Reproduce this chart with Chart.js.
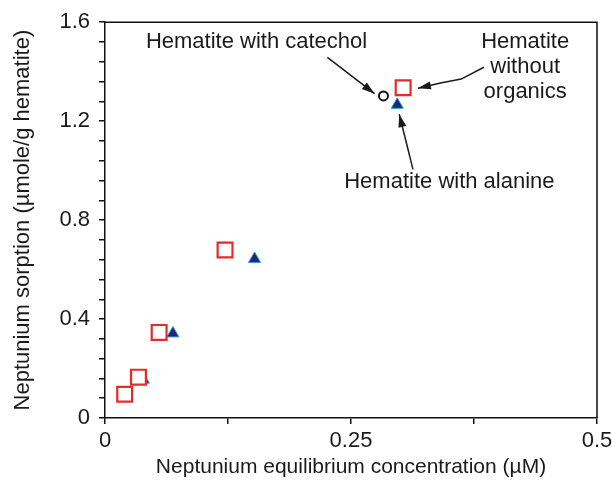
<!DOCTYPE html>
<html><head><meta charset="utf-8">
<script src="https://cdn.jsdelivr.net/npm/chart.js@4/dist/chart.umd.min.js"></script>
<style>html,body{margin:0;padding:0;background:#fff}</style>
</head><body>
<canvas id="c" width="612" height="490"></canvas>
<script>
// Data
const withoutOrganicsX = [0.020, 0.034, 0.055, 0.122, 0.303];
const withoutOrganicsY = [0.096, 0.165, 0.346, 0.679, 1.335];
const alanineX = [0.039, 0.069, 0.152, 0.297];
const alanineY = [0.155, 0.342, 0.643, 1.266];
const catecholX = [0.021, 0.034, 0.056, 0.122, 0.283];
const catecholY = [0.092, 0.163, 0.344, 0.690, 1.302];
const yTickLabels = ['0', '0.4', '0.8', '1.2', '1.6'];
const xTickLabels = ['0', '0.25', '0.5'];
const xTitle = 'Neptunium equilibrium concentration (\u00b5M)';
const yTitle = 'Neptunium sorption (\u00b5mole/g hematite)';

const FONT = "'Liberation Sans', Arial, Helvetica, sans-serif";
const INK = '#1a1a1a';

function pts(xs, ys) { return xs.map((x, i) => ({x: x, y: ys[i]})); }

// annotation texts and arrows, in data units
const annotations = {
  texts: [
    {lines: ['Hematite with catechol'], x: 0.154, y: 1.52},
    {lines: ['Hematite', 'without', 'organics'], x: 0.427, y: 1.52},
    {lines: ['Hematite with alanine'], x: 0.35, y: 0.955}
  ],
  arrows: [
    [[0.226, 1.458], [0.274, 1.311]],
    [[0.385, 1.418], [0.362, 1.370], [0.341, 1.354], [0.318, 1.333]],
    [[0.313, 1.005], [0.299, 1.228]]
  ]
};

const framePlugin = {
  id: 'frame',
  afterDraw(chart) {
    const a = chart.chartArea, ctx = chart.ctx;
    ctx.save();
    ctx.strokeStyle = '#111';
    ctx.lineWidth = 1.5;
    ctx.beginPath();
    ctx.moveTo(a.left, a.top);
    ctx.lineTo(a.right, a.top);
    ctx.lineTo(a.right, a.bottom);
    ctx.stroke();
    ctx.restore();
  }
};

const annotPlugin = {
  id: 'annot',
  afterDraw(chart) {
    const ctx = chart.ctx, xs = chart.scales.x, ys = chart.scales.y;
    ctx.save();
    ctx.fillStyle = INK;
    ctx.font = '22px ' + FONT;
    ctx.textAlign = 'center';
    ctx.textBaseline = 'middle';
    annotations.texts.forEach(t => {
      const cx = xs.getPixelForValue(t.x), cy = ys.getPixelForValue(t.y);
      t.lines.forEach((s, i) => ctx.fillText(s, cx, cy + i * 25));
    });
    ctx.strokeStyle = INK;
    ctx.lineWidth = 1.5;
    annotations.arrows.forEach(a => {
      const p = a.map(q => [xs.getPixelForValue(q[0]), ys.getPixelForValue(q[1])]);
      ctx.beginPath();
      ctx.moveTo(p[0][0], p[0][1]);
      for (let i = 1; i < p.length; i++) ctx.lineTo(p[i][0], p[i][1]);
      ctx.stroke();
      const e = p[p.length - 1], s = p[p.length - 2];
      const ang = Math.atan2(e[1] - s[1], e[0] - s[0]);
      const L = 13, W = 4;
      ctx.beginPath();
      ctx.moveTo(e[0], e[1]);
      ctx.lineTo(e[0] - L * Math.cos(ang) + W * Math.sin(ang), e[1] - L * Math.sin(ang) - W * Math.cos(ang));
      ctx.lineTo(e[0] - L * Math.cos(ang) - W * Math.sin(ang), e[1] - L * Math.sin(ang) + W * Math.cos(ang));
      ctx.closePath();
      ctx.fill();
    });
    ctx.restore();
  }
};

new Chart(document.getElementById('c'), {
  type: 'scatter',
  data: {
    datasets: [
      {label: 'Hematite without organics', data: pts(withoutOrganicsX, withoutOrganicsY),
       pointStyle: 'rect', pointRadius: 10.5, pointBorderWidth: 2.2,
       borderColor: '#e52a2a', backgroundColor: '#ffffff'},
      {label: 'Hematite with alanine', data: pts(alanineX, alanineY),
       pointStyle: 'triangle', pointRadius: 7, pointBorderWidth: 1,
       borderColor: '#2a9fd6', backgroundColor: '#1e2878'},
      {label: 'Hematite with catechol', data: pts(catecholX, catecholY),
       pointStyle: 'circle', pointRadius: 4.5, pointBorderWidth: 2,
       borderColor: '#111111', backgroundColor: '#ffffff'}
    ]
  },
  options: {
    responsive: false,
    animation: false,
    events: [],
    layout: {padding: {left: 0, right: 15, top: 20, bottom: 0}},
    plugins: {legend: {display: false}, tooltip: {enabled: false}},
    scales: {
      x: {
        type: 'linear', min: 0, max: 0.5,
        afterFit(s) { s.height = 72; s.paddingRight = 0; s.paddingLeft = 0; },
        afterBuildTicks(s) { s.ticks = [0, 0.125, 0.25, 0.375, 0.5].map(v => ({value: v})); },
        ticks: {
          autoSkip: false, maxRotation: 0, padding: 4, color: INK,
          font: {family: FONT, size: 22},
          callback(v) {
            const i = Math.round(v / 0.25);
            return Math.abs(v - i * 0.25) < 1e-9 ? xTickLabels[i] : '';
          }
        },
        grid: {drawOnChartArea: false, drawTicks: true, tickLength: 6, color: '#111', lineWidth: 1.5},
        border: {display: true, color: '#111', width: 1.5},
        title: {display: true, text: xTitle, color: INK, font: {family: FONT, size: 21},
                padding: {top: 0, bottom: 10}}
      },
      y: {
        type: 'linear', min: 0, max: 1.6,
        afterFit(s) { s.width = 105; },
        afterBuildTicks(s) {
          const t = [];
          for (let k = 0; k <= 20; k++) t.push({value: +(k * 0.08).toFixed(2)});
          s.ticks = t;
        },
        ticks: {
          autoSkip: false, padding: 9, color: INK,
          font: {family: FONT, size: 22},
          callback(v) {
            const i = Math.round(v / 0.4);
            return Math.abs(v - i * 0.4) < 1e-9 ? yTickLabels[i] : '';
          }
        },
        grid: {drawOnChartArea: false, drawTicks: true, tickLength: 6, color: '#111', lineWidth: 1.5},
        border: {display: true, color: '#111', width: 1.5},
        title: {display: true, text: yTitle, color: INK, font: {family: FONT, size: 22},
                padding: {top: 10, bottom: 0}}
      }
    }
  },
  plugins: [framePlugin, annotPlugin]
});
</script>
</body></html>
